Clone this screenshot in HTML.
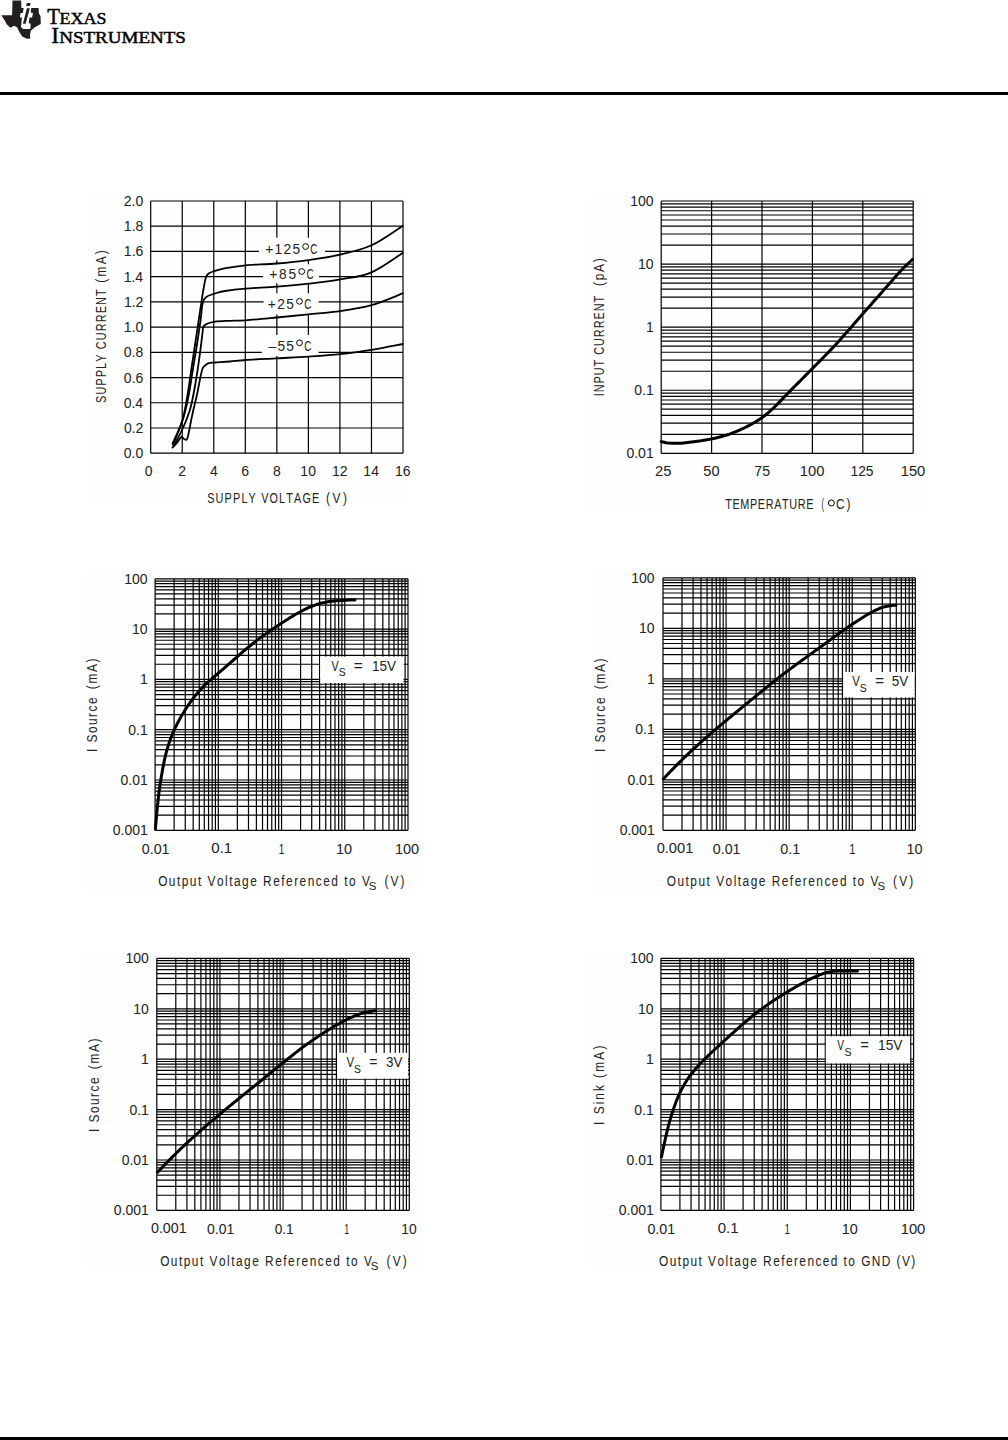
<!DOCTYPE html><html><head><meta charset="utf-8"><style>html,body{margin:0;padding:0;background:#fff;width:1008px;height:1440px;overflow:hidden}svg{display:block}text{font-kerning:none}</style></head><body>
<svg width="1008" height="1440" viewBox="0 0 1008 1440">
<rect x="0" y="0" width="1008" height="1440" fill="#fff"/>
<rect x="93.00" y="194.00" width="316.00" height="311.00" fill="#fefefe"/>
<rect x="590.00" y="194.60" width="334.00" height="316.00" fill="#fefefe"/>
<rect x="84.00" y="573.00" width="334.00" height="317.50" fill="#fefefe"/>
<rect x="592.00" y="571.40" width="333.00" height="318.60" fill="#fefefe"/>
<rect x="86.00" y="952.00" width="334.00" height="318.00" fill="#fefefe"/>
<rect x="590.00" y="952.00" width="334.00" height="316.75" fill="#fefefe"/>
<path d="M12.5,0.4 L21.2,0.4 L21.4,8 L38.6,8 L38.8,12.9 L40.6,16.5 L40.8,24.1 L34.8,27.2 L30.8,30.8 L29.9,35.3 L30.4,38.4 L26.8,38.8 L22.3,36.6 L19.6,32.6 L17,27.2 L14.3,25.7 L10.3,27.7 L6.7,24.3 L5.4,21.4 L1.3,15.2 L12.1,15.2 Z" fill="#231f20"/>
<path d="M23.7,8 L31.2,8 L30.6,12.5 L33,12.9 L32.1,17.4 L29.5,17.4 L28.6,23.2 L30.6,23.6 L30.4,29 L23,29 L21,27 L21.9,17.4 L20,17.4 L20.5,12.9 L22.8,12.9 Z" fill="#fff"/>
<path d="M26.9,8.2 L29.8,8.2 L25.7,23.8 L22.9,23.8 Z" fill="#231f20"/>
<path d="M26.8,3.0 L30.8,3.0 L29.7,6.0 L26.2,6.0 Z" fill="#231f20"/>
<text transform="translate(47.23,23.80) scale(0.8980,1)" font-family="Liberation Serif" font-size="23" fill="#000" stroke="#000" stroke-width="0.45">T</text>
<text transform="translate(59.48,23.80) scale(1.0892,1)" font-family="Liberation Serif" font-size="16.5" fill="#000" stroke="#000" stroke-width="0.45">EXAS</text>
<text transform="translate(51.36,43.20) scale(1.0134,1)" font-family="Liberation Serif" font-size="23" fill="#000" stroke="#000" stroke-width="0.45">I</text>
<text transform="translate(59.15,43.20) scale(1.1528,1)" font-family="Liberation Serif" font-size="16.5" fill="#000" stroke="#000" stroke-width="0.45">NSTRUMENTS</text>
<rect x="0.00" y="92.00" width="1008.00" height="3.00" fill="#000"/>
<rect x="0.00" y="1437.00" width="1008.00" height="3.00" fill="#000"/>
<line x1="150.70" y1="201.00" x2="150.70" y2="453.20" stroke="#000" stroke-width="1.2"/>
<line x1="182.24" y1="201.00" x2="182.24" y2="453.20" stroke="#000" stroke-width="1.2"/>
<line x1="213.77" y1="201.00" x2="213.77" y2="453.20" stroke="#000" stroke-width="1.2"/>
<line x1="245.31" y1="201.00" x2="245.31" y2="453.20" stroke="#000" stroke-width="1.2"/>
<line x1="276.85" y1="201.00" x2="276.85" y2="453.20" stroke="#000" stroke-width="1.2"/>
<line x1="308.39" y1="201.00" x2="308.39" y2="453.20" stroke="#000" stroke-width="1.2"/>
<line x1="339.93" y1="201.00" x2="339.93" y2="453.20" stroke="#000" stroke-width="1.2"/>
<line x1="371.46" y1="201.00" x2="371.46" y2="453.20" stroke="#000" stroke-width="1.2"/>
<line x1="403.00" y1="201.00" x2="403.00" y2="453.20" stroke="#000" stroke-width="1.2"/>
<line x1="150.70" y1="453.20" x2="403.00" y2="453.20" stroke="#000" stroke-width="1.2"/>
<line x1="150.70" y1="427.98" x2="403.00" y2="427.98" stroke="#000" stroke-width="1.2"/>
<line x1="150.70" y1="402.76" x2="403.00" y2="402.76" stroke="#000" stroke-width="1.2"/>
<line x1="150.70" y1="377.54" x2="403.00" y2="377.54" stroke="#000" stroke-width="1.2"/>
<line x1="150.70" y1="352.32" x2="403.00" y2="352.32" stroke="#000" stroke-width="1.2"/>
<line x1="150.70" y1="327.10" x2="403.00" y2="327.10" stroke="#000" stroke-width="1.2"/>
<line x1="150.70" y1="301.88" x2="403.00" y2="301.88" stroke="#000" stroke-width="1.2"/>
<line x1="150.70" y1="276.66" x2="403.00" y2="276.66" stroke="#000" stroke-width="1.2"/>
<line x1="150.70" y1="251.44" x2="403.00" y2="251.44" stroke="#000" stroke-width="1.2"/>
<line x1="150.70" y1="226.22" x2="403.00" y2="226.22" stroke="#000" stroke-width="1.2"/>
<line x1="150.70" y1="201.00" x2="403.00" y2="201.00" stroke="#000" stroke-width="1.2"/>
<text transform="translate(123.78,458.20) scale(1.0000,1)" font-family="Liberation Sans" font-size="14" fill="#222">0.0</text>
<text transform="translate(123.94,432.98) scale(1.0000,1)" font-family="Liberation Sans" font-size="14" fill="#222">0.2</text>
<text transform="translate(123.65,407.76) scale(1.0000,1)" font-family="Liberation Sans" font-size="14" fill="#222">0.4</text>
<text transform="translate(123.85,382.54) scale(1.0000,1)" font-family="Liberation Sans" font-size="14" fill="#222">0.6</text>
<text transform="translate(123.85,357.32) scale(1.0000,1)" font-family="Liberation Sans" font-size="14" fill="#222">0.8</text>
<text transform="translate(123.78,332.10) scale(1.0000,1)" font-family="Liberation Sans" font-size="14" fill="#222">1.0</text>
<text transform="translate(123.94,306.88) scale(1.0000,1)" font-family="Liberation Sans" font-size="14" fill="#222">1.2</text>
<text transform="translate(123.65,281.66) scale(1.0000,1)" font-family="Liberation Sans" font-size="14" fill="#222">1.4</text>
<text transform="translate(123.85,256.44) scale(1.0000,1)" font-family="Liberation Sans" font-size="14" fill="#222">1.6</text>
<text transform="translate(123.85,231.22) scale(1.0000,1)" font-family="Liberation Sans" font-size="14" fill="#222">1.8</text>
<text transform="translate(123.78,206.00) scale(1.0000,1)" font-family="Liberation Sans" font-size="14" fill="#222">2.0</text>
<text transform="translate(144.81,475.50) scale(1.0000,1)" font-family="Liberation Sans" font-size="14" fill="#222">0</text>
<text transform="translate(178.34,475.50) scale(1.0000,1)" font-family="Liberation Sans" font-size="14" fill="#222">2</text>
<text transform="translate(209.93,475.50) scale(1.0000,1)" font-family="Liberation Sans" font-size="14" fill="#222">4</text>
<text transform="translate(241.37,475.50) scale(1.0000,1)" font-family="Liberation Sans" font-size="14" fill="#222">6</text>
<text transform="translate(272.96,475.50) scale(1.0000,1)" font-family="Liberation Sans" font-size="14" fill="#222">8</text>
<text transform="translate(300.34,475.50) scale(1.0000,1)" font-family="Liberation Sans" font-size="14" fill="#222">10</text>
<text transform="translate(331.96,475.50) scale(1.0000,1)" font-family="Liberation Sans" font-size="14" fill="#222">12</text>
<text transform="translate(363.35,475.50) scale(1.0000,1)" font-family="Liberation Sans" font-size="14" fill="#222">14</text>
<text transform="translate(394.99,475.50) scale(1.0000,1)" font-family="Liberation Sans" font-size="14" fill="#222">16</text>
<text transform="translate(207.21,502.80) scale(0.7500,1)" font-family="Liberation Sans" font-size="14.5" fill="#222" letter-spacing="1.534">SUPPLY VOLTAGE</text>
<text transform="translate(325.96,502.80) scale(0.8200,1)" font-family="Liberation Sans" font-size="14.5" fill="#222" letter-spacing="3.186">(V)</text>
<text transform="translate(106.00,282.64) rotate(-90) scale(0.8200,1)" font-family="Liberation Sans" font-size="14.5" fill="#222" letter-spacing="2.691">(mA)</text>
<text transform="translate(106.00,402.99) rotate(-90) scale(0.7500,1)" font-family="Liberation Sans" font-size="14.5" fill="#222" letter-spacing="1.512">SUPPLY CURRENT</text>
<rect x="259.00" y="237.70" width="66.00" height="22.50" fill="#fff"/>
<rect x="263.10" y="264.30" width="55.90" height="18.90" fill="#fff"/>
<rect x="263.60" y="293.20" width="55.00" height="21.20" fill="#fff"/>
<rect x="261.80" y="335.10" width="56.80" height="20.90" fill="#fff"/>
<text transform="translate(265.23,254.30) scale(0.9500,1)" font-family="Liberation Sans" font-size="14.5" fill="#222" letter-spacing="1.342">+125</text>
<circle cx="305.60" cy="246.50" r="2.9" fill="none" stroke="#000" stroke-width="1.0"/>
<text transform="translate(310.29,254.30) scale(0.6861,1)" font-family="Liberation Sans" font-size="14.5" fill="#222">C</text>
<text transform="translate(269.23,279.20) scale(0.9500,1)" font-family="Liberation Sans" font-size="14.5" fill="#222" letter-spacing="1.887">+85</text>
<circle cx="301.70" cy="271.50" r="2.9" fill="none" stroke="#000" stroke-width="1.0"/>
<text transform="translate(306.39,279.20) scale(0.6861,1)" font-family="Liberation Sans" font-size="14.5" fill="#222">C</text>
<text transform="translate(267.83,309.00) scale(0.9500,1)" font-family="Liberation Sans" font-size="14.5" fill="#222" letter-spacing="1.466">+25</text>
<circle cx="299.50" cy="301.30" r="2.9" fill="none" stroke="#000" stroke-width="1.0"/>
<text transform="translate(304.19,309.00) scale(0.6861,1)" font-family="Liberation Sans" font-size="14.5" fill="#222">C</text>
<text transform="translate(268.50,350.50) scale(0.9500,1)" font-family="Liberation Sans" font-size="14.5" fill="#222" letter-spacing="1.313">–55</text>
<circle cx="299.50" cy="342.80" r="2.9" fill="none" stroke="#000" stroke-width="1.0"/>
<text transform="translate(304.19,350.50) scale(0.6861,1)" font-family="Liberation Sans" font-size="14.5" fill="#222">C</text>
<path d="M173.10,445.00 C174.67,440.83 180.10,428.33 182.50,420.00 C184.90,411.67 186.04,403.33 187.50,395.00 C188.96,386.67 190.00,378.33 191.25,370.00 C192.50,361.67 193.75,353.33 195.00,345.00 C196.25,336.67 197.50,328.33 198.75,320.00 C200.00,311.67 201.49,301.33 202.50,295.00 C203.51,288.67 204.17,285.08 204.80,282.00 C205.43,278.92 205.60,277.95 206.30,276.50 C207.00,275.05 207.87,274.13 209.00,273.30 C210.13,272.47 210.33,272.35 213.10,271.50 C215.87,270.65 220.17,269.23 225.60,268.20 C231.03,267.17 237.17,266.08 245.70,265.30 C254.23,264.52 266.37,264.37 276.80,263.50 C287.23,262.63 297.72,261.58 308.30,260.10 C318.88,258.62 329.77,257.07 340.30,254.60 C350.83,252.13 361.10,250.08 371.50,245.30 C381.90,240.52 397.50,229.13 402.70,225.90" fill="none" stroke="#000" stroke-width="1.8" stroke-linejoin="round" stroke-linecap="round"/>
<path d="M172.50,443.75 C174.20,439.79 179.99,428.12 182.70,420.00 C185.41,411.88 187.07,403.33 188.75,395.00 C190.43,386.67 191.39,378.33 192.75,370.00 C194.11,361.67 195.59,353.33 196.90,345.00 C198.21,336.67 199.70,326.67 200.60,320.00 C201.50,313.33 201.73,308.42 202.30,305.00 C202.87,301.58 203.13,300.97 204.00,299.50 C204.87,298.03 205.67,297.20 207.50,296.20 C209.33,295.20 212.08,294.37 215.00,293.50 C217.92,292.63 219.88,291.82 225.00,291.00 C230.12,290.18 237.07,289.33 245.70,288.60 C254.33,287.87 266.37,287.42 276.80,286.60 C287.23,285.78 297.72,284.90 308.30,283.70 C318.88,282.50 329.77,281.30 340.30,279.40 C350.83,277.50 361.10,276.72 371.50,272.30 C381.90,267.88 397.50,256.13 402.70,252.90" fill="none" stroke="#000" stroke-width="1.8" stroke-linejoin="round" stroke-linecap="round"/>
<path d="M173.75,446.25 C175.42,442.92 180.94,432.71 183.75,426.25 C186.56,419.79 188.62,414.79 190.60,407.50 C192.57,400.21 194.13,390.83 195.60,382.50 C197.07,374.17 198.25,365.75 199.40,357.50 C200.55,349.25 201.88,338.00 202.50,333.00 C203.12,328.00 202.68,328.83 203.10,327.50 C203.52,326.17 204.27,325.65 205.00,325.00 C205.73,324.35 205.83,324.17 207.50,323.60 C209.17,323.03 211.25,322.07 215.00,321.60 C218.75,321.13 224.88,321.02 230.00,320.80 C235.12,320.58 237.90,320.85 245.70,320.30 C253.50,319.75 266.37,318.48 276.80,317.50 C287.23,316.52 297.72,315.47 308.30,314.40 C318.88,313.33 329.77,312.63 340.30,311.10 C350.83,309.57 361.10,308.15 371.50,305.20 C381.90,302.25 397.50,295.37 402.70,293.40" fill="none" stroke="#000" stroke-width="1.8" stroke-linejoin="round" stroke-linecap="round"/>
<path d="M172.50,447.50 C173.25,446.75 175.54,444.77 177.00,443.00 C178.46,441.23 180.12,437.61 181.25,436.90 C182.38,436.19 182.81,438.33 183.75,438.75 C184.69,439.17 186.07,440.44 186.90,439.40 C187.73,438.36 187.82,436.77 188.75,432.50 C189.68,428.23 191.14,420.00 192.50,413.75 C193.86,407.50 195.55,401.25 196.90,395.00 C198.25,388.75 199.65,380.67 200.60,376.25 C201.55,371.83 201.87,370.29 202.60,368.50 C203.33,366.71 203.97,366.40 205.00,365.50 C206.03,364.60 207.08,363.60 208.75,363.10 C210.42,362.60 211.46,362.77 215.00,362.50 C218.54,362.23 224.88,361.92 230.00,361.50 C235.12,361.08 237.90,360.53 245.70,360.00 C253.50,359.47 266.37,358.87 276.80,358.30 C287.23,357.73 297.72,357.30 308.30,356.60 C318.88,355.90 329.77,355.23 340.30,354.10 C350.83,352.97 361.10,351.48 371.50,349.80 C381.90,348.12 397.50,344.97 402.70,344.00" fill="none" stroke="#000" stroke-width="1.8" stroke-linejoin="round" stroke-linecap="round"/>
<line x1="661.20" y1="201.00" x2="661.20" y2="453.30" stroke="#000" stroke-width="1.2"/>
<line x1="711.60" y1="201.00" x2="711.60" y2="453.30" stroke="#000" stroke-width="1.2"/>
<line x1="762.00" y1="201.00" x2="762.00" y2="453.30" stroke="#000" stroke-width="1.2"/>
<line x1="812.40" y1="201.00" x2="812.40" y2="453.30" stroke="#000" stroke-width="1.2"/>
<line x1="862.80" y1="201.00" x2="862.80" y2="453.30" stroke="#000" stroke-width="1.2"/>
<line x1="913.20" y1="201.00" x2="913.20" y2="453.30" stroke="#000" stroke-width="1.2"/>
<line x1="661.20" y1="453.30" x2="913.20" y2="453.30" stroke="#000" stroke-width="1.2"/>
<line x1="661.20" y1="434.31" x2="913.20" y2="434.31" stroke="#000" stroke-width="1.2"/>
<line x1="661.20" y1="423.21" x2="913.20" y2="423.21" stroke="#000" stroke-width="1.2"/>
<line x1="661.20" y1="415.33" x2="913.20" y2="415.33" stroke="#000" stroke-width="1.2"/>
<line x1="661.20" y1="409.21" x2="913.20" y2="409.21" stroke="#000" stroke-width="1.2"/>
<line x1="661.20" y1="404.22" x2="913.20" y2="404.22" stroke="#000" stroke-width="1.2"/>
<line x1="661.20" y1="400.00" x2="913.20" y2="400.00" stroke="#000" stroke-width="1.2"/>
<line x1="661.20" y1="396.34" x2="913.20" y2="396.34" stroke="#000" stroke-width="1.2"/>
<line x1="661.20" y1="393.11" x2="913.20" y2="393.11" stroke="#000" stroke-width="1.2"/>
<line x1="661.20" y1="390.23" x2="913.20" y2="390.23" stroke="#000" stroke-width="1.2"/>
<line x1="661.20" y1="371.24" x2="913.20" y2="371.24" stroke="#000" stroke-width="1.2"/>
<line x1="661.20" y1="360.13" x2="913.20" y2="360.13" stroke="#000" stroke-width="1.2"/>
<line x1="661.20" y1="352.25" x2="913.20" y2="352.25" stroke="#000" stroke-width="1.2"/>
<line x1="661.20" y1="346.14" x2="913.20" y2="346.14" stroke="#000" stroke-width="1.2"/>
<line x1="661.20" y1="341.14" x2="913.20" y2="341.14" stroke="#000" stroke-width="1.2"/>
<line x1="661.20" y1="336.92" x2="913.20" y2="336.92" stroke="#000" stroke-width="1.2"/>
<line x1="661.20" y1="333.26" x2="913.20" y2="333.26" stroke="#000" stroke-width="1.2"/>
<line x1="661.20" y1="330.04" x2="913.20" y2="330.04" stroke="#000" stroke-width="1.2"/>
<line x1="661.20" y1="327.15" x2="913.20" y2="327.15" stroke="#000" stroke-width="1.2"/>
<line x1="661.20" y1="308.16" x2="913.20" y2="308.16" stroke="#000" stroke-width="1.2"/>
<line x1="661.20" y1="297.06" x2="913.20" y2="297.06" stroke="#000" stroke-width="1.2"/>
<line x1="661.20" y1="289.18" x2="913.20" y2="289.18" stroke="#000" stroke-width="1.2"/>
<line x1="661.20" y1="283.06" x2="913.20" y2="283.06" stroke="#000" stroke-width="1.2"/>
<line x1="661.20" y1="278.07" x2="913.20" y2="278.07" stroke="#000" stroke-width="1.2"/>
<line x1="661.20" y1="273.85" x2="913.20" y2="273.85" stroke="#000" stroke-width="1.2"/>
<line x1="661.20" y1="270.19" x2="913.20" y2="270.19" stroke="#000" stroke-width="1.2"/>
<line x1="661.20" y1="266.96" x2="913.20" y2="266.96" stroke="#000" stroke-width="1.2"/>
<line x1="661.20" y1="264.07" x2="913.20" y2="264.07" stroke="#000" stroke-width="1.2"/>
<line x1="661.20" y1="245.09" x2="913.20" y2="245.09" stroke="#000" stroke-width="1.2"/>
<line x1="661.20" y1="233.98" x2="913.20" y2="233.98" stroke="#000" stroke-width="1.2"/>
<line x1="661.20" y1="226.10" x2="913.20" y2="226.10" stroke="#000" stroke-width="1.2"/>
<line x1="661.20" y1="219.99" x2="913.20" y2="219.99" stroke="#000" stroke-width="1.2"/>
<line x1="661.20" y1="214.99" x2="913.20" y2="214.99" stroke="#000" stroke-width="1.2"/>
<line x1="661.20" y1="210.77" x2="913.20" y2="210.77" stroke="#000" stroke-width="1.2"/>
<line x1="661.20" y1="207.11" x2="913.20" y2="207.11" stroke="#000" stroke-width="1.2"/>
<line x1="661.20" y1="203.89" x2="913.20" y2="203.89" stroke="#000" stroke-width="1.2"/>
<line x1="661.20" y1="201.00" x2="913.20" y2="201.00" stroke="#000" stroke-width="1.2"/>
<text transform="translate(626.44,458.30) scale(1.0000,1)" font-family="Liberation Sans" font-size="14" fill="#222">0.01</text>
<text transform="translate(634.22,395.23) scale(1.0000,1)" font-family="Liberation Sans" font-size="14" fill="#222">0.1</text>
<text transform="translate(645.90,332.15) scale(1.0000,1)" font-family="Liberation Sans" font-size="14" fill="#222">1</text>
<text transform="translate(637.97,269.07) scale(1.0000,1)" font-family="Liberation Sans" font-size="14" fill="#222">10</text>
<text transform="translate(630.19,206.00) scale(1.0000,1)" font-family="Liberation Sans" font-size="14" fill="#222">100</text>
<text transform="translate(655.05,475.50) scale(1.0644,1)" font-family="Liberation Sans" font-size="14" fill="#222">25</text>
<text transform="translate(703.31,475.50) scale(1.0439,1)" font-family="Liberation Sans" font-size="14" fill="#222">50</text>
<text transform="translate(754.27,475.50) scale(1.0164,1)" font-family="Liberation Sans" font-size="14" fill="#222">75</text>
<text transform="translate(799.87,475.50) scale(1.0577,1)" font-family="Liberation Sans" font-size="14" fill="#222">100</text>
<text transform="translate(850.44,475.50) scale(0.9906,1)" font-family="Liberation Sans" font-size="14" fill="#222">125</text>
<text transform="translate(900.67,475.50) scale(1.0577,1)" font-family="Liberation Sans" font-size="14" fill="#222">150</text>
<text transform="translate(725.16,508.90) scale(0.7500,1)" font-family="Liberation Sans" font-size="14.5" fill="#222" letter-spacing="0.832">TEMPERATURE</text>
<text transform="translate(821.43,508.90) scale(0.5202,1)" font-family="Liberation Sans" font-size="14.5" fill="#222">(</text>
<circle cx="831.40" cy="503.00" r="3" fill="none" stroke="#000" stroke-width="1.0"/>
<text transform="translate(836.10,508.90) scale(0.8200,1)" font-family="Liberation Sans" font-size="14.5" fill="#222" letter-spacing="2.067">C)</text>
<text transform="translate(603.50,286.04) rotate(-90) scale(0.8200,1)" font-family="Liberation Sans" font-size="14.5" fill="#222" letter-spacing="2.160">(pA)</text>
<text transform="translate(603.50,396.30) rotate(-90) scale(0.7500,1)" font-family="Liberation Sans" font-size="14.5" fill="#222" letter-spacing="1.305">INPUT CURRENT</text>
<path d="M661.25,441.50 L663.23,442.07 L665.22,442.57 L667.23,442.93 L669.24,443.12 L671.28,443.23 L673.32,443.31 L675.37,443.36 L677.41,443.37 L679.44,443.31 L681.48,443.17 L683.51,442.98 L685.54,442.76 L687.58,442.51 L689.60,442.25 L691.63,442.01 L693.66,441.77 L695.68,441.51 L697.71,441.24 L699.73,440.95 L701.75,440.64 L703.77,440.31 L705.78,439.97 L707.79,439.62 L709.79,439.25 L711.79,438.85 L713.79,438.43 L715.78,437.98 L717.77,437.50 L719.76,437.00 L721.73,436.47 L723.69,435.92 L725.64,435.34 L727.58,434.72 L729.51,434.06 L731.43,433.35 L733.34,432.62 L735.24,431.86 L737.13,431.09 L739.01,430.30 L740.88,429.48 L742.74,428.63 L744.58,427.75 L746.42,426.85 L748.24,425.92 L750.04,424.97 L751.83,423.99 L753.60,422.98 L755.37,421.95 L757.12,420.88 L758.84,419.78 L760.54,418.65 L762.21,417.48 L763.84,416.28 L765.45,415.03 L767.04,413.73 L768.60,412.41 L770.14,411.06 L771.66,409.70 L773.16,408.32 L774.64,406.92 L776.09,405.49 L777.52,404.04 L778.95,402.58 L780.36,401.10 L781.77,399.61 L783.17,398.13 L784.58,396.65 L786.00,395.18 L787.43,393.72 L788.86,392.27 L790.30,390.82 L791.73,389.37 L793.17,387.92 L794.61,386.47 L796.05,385.02 L797.49,383.57 L798.93,382.13 L800.36,380.68 L801.80,379.23 L803.24,377.78 L804.68,376.34 L806.12,374.89 L807.55,373.44 L808.99,371.98 L810.42,370.53 L811.85,369.08 L813.29,367.63 L814.73,366.18 L816.17,364.73 L817.61,363.28 L819.04,361.83 L820.48,360.38 L821.92,358.93 L823.35,357.48 L824.78,356.02 L826.21,354.56 L827.63,353.10 L829.05,351.63 L830.46,350.16 L831.86,348.68 L833.26,347.19 L834.65,345.70 L836.03,344.20 L837.40,342.69 L838.77,341.17 L840.14,339.66 L841.50,338.13 L842.85,336.61 L844.20,335.08 L845.56,333.55 L846.91,332.02 L848.26,330.48 L849.61,328.95 L850.96,327.42 L852.30,325.89 L853.64,324.35 L854.98,322.81 L856.32,321.27 L857.66,319.73 L858.99,318.18 L860.33,316.64 L861.67,315.10 L863.02,313.57 L864.36,312.04 L865.71,310.50 L867.07,308.98 L868.42,307.45 L869.77,305.92 L871.13,304.39 L872.48,302.87 L873.83,301.34 L875.19,299.81 L876.54,298.28 L877.89,296.75 L879.24,295.22 L880.59,293.69 L881.93,292.15 L883.28,290.62 L884.62,289.08 L885.97,287.55 L887.32,286.02 L888.67,284.48 L890.02,282.96 L891.37,281.43 L892.72,279.89 L894.06,278.35 L895.41,276.82 L896.76,275.28 L898.11,273.76 L899.48,272.24 L900.87,270.75 L902.28,269.28 L903.71,267.82 L905.15,266.38 L906.61,264.96 L908.09,263.55 L909.58,262.15 L911.08,260.77 L912.60,259.40" fill="none" stroke="#000" stroke-width="3" stroke-linejoin="round" stroke-linecap="round"/>
<line x1="155.10" y1="578.80" x2="155.10" y2="830.30" stroke="#000" stroke-width="1.2"/>
<line x1="174.13" y1="578.80" x2="174.13" y2="830.30" stroke="#000" stroke-width="1.2"/>
<line x1="185.27" y1="578.80" x2="185.27" y2="830.30" stroke="#000" stroke-width="1.2"/>
<line x1="193.17" y1="578.80" x2="193.17" y2="830.30" stroke="#000" stroke-width="1.2"/>
<line x1="199.29" y1="578.80" x2="199.29" y2="830.30" stroke="#000" stroke-width="1.2"/>
<line x1="204.30" y1="578.80" x2="204.30" y2="830.30" stroke="#000" stroke-width="1.2"/>
<line x1="208.53" y1="578.80" x2="208.53" y2="830.30" stroke="#000" stroke-width="1.2"/>
<line x1="212.20" y1="578.80" x2="212.20" y2="830.30" stroke="#000" stroke-width="1.2"/>
<line x1="215.43" y1="578.80" x2="215.43" y2="830.30" stroke="#000" stroke-width="1.2"/>
<line x1="218.32" y1="578.80" x2="218.32" y2="830.30" stroke="#000" stroke-width="1.2"/>
<line x1="237.36" y1="578.80" x2="237.36" y2="830.30" stroke="#000" stroke-width="1.2"/>
<line x1="248.49" y1="578.80" x2="248.49" y2="830.30" stroke="#000" stroke-width="1.2"/>
<line x1="256.39" y1="578.80" x2="256.39" y2="830.30" stroke="#000" stroke-width="1.2"/>
<line x1="262.52" y1="578.80" x2="262.52" y2="830.30" stroke="#000" stroke-width="1.2"/>
<line x1="267.52" y1="578.80" x2="267.52" y2="830.30" stroke="#000" stroke-width="1.2"/>
<line x1="271.76" y1="578.80" x2="271.76" y2="830.30" stroke="#000" stroke-width="1.2"/>
<line x1="275.42" y1="578.80" x2="275.42" y2="830.30" stroke="#000" stroke-width="1.2"/>
<line x1="278.66" y1="578.80" x2="278.66" y2="830.30" stroke="#000" stroke-width="1.2"/>
<line x1="281.55" y1="578.80" x2="281.55" y2="830.30" stroke="#000" stroke-width="1.2"/>
<line x1="300.58" y1="578.80" x2="300.58" y2="830.30" stroke="#000" stroke-width="1.2"/>
<line x1="311.72" y1="578.80" x2="311.72" y2="830.30" stroke="#000" stroke-width="1.2"/>
<line x1="319.62" y1="578.80" x2="319.62" y2="830.30" stroke="#000" stroke-width="1.2"/>
<line x1="325.74" y1="578.80" x2="325.74" y2="830.30" stroke="#000" stroke-width="1.2"/>
<line x1="330.75" y1="578.80" x2="330.75" y2="830.30" stroke="#000" stroke-width="1.2"/>
<line x1="334.98" y1="578.80" x2="334.98" y2="830.30" stroke="#000" stroke-width="1.2"/>
<line x1="338.65" y1="578.80" x2="338.65" y2="830.30" stroke="#000" stroke-width="1.2"/>
<line x1="341.88" y1="578.80" x2="341.88" y2="830.30" stroke="#000" stroke-width="1.2"/>
<line x1="344.77" y1="578.80" x2="344.77" y2="830.30" stroke="#000" stroke-width="1.2"/>
<line x1="363.81" y1="578.80" x2="363.81" y2="830.30" stroke="#000" stroke-width="1.2"/>
<line x1="374.94" y1="578.80" x2="374.94" y2="830.30" stroke="#000" stroke-width="1.2"/>
<line x1="382.84" y1="578.80" x2="382.84" y2="830.30" stroke="#000" stroke-width="1.2"/>
<line x1="388.97" y1="578.80" x2="388.97" y2="830.30" stroke="#000" stroke-width="1.2"/>
<line x1="393.97" y1="578.80" x2="393.97" y2="830.30" stroke="#000" stroke-width="1.2"/>
<line x1="398.21" y1="578.80" x2="398.21" y2="830.30" stroke="#000" stroke-width="1.2"/>
<line x1="401.87" y1="578.80" x2="401.87" y2="830.30" stroke="#000" stroke-width="1.2"/>
<line x1="405.11" y1="578.80" x2="405.11" y2="830.30" stroke="#000" stroke-width="1.2"/>
<line x1="408.00" y1="578.80" x2="408.00" y2="830.30" stroke="#000" stroke-width="1.2"/>
<line x1="155.10" y1="830.30" x2="408.00" y2="830.30" stroke="#000" stroke-width="1.2"/>
<line x1="155.10" y1="815.16" x2="408.00" y2="815.16" stroke="#000" stroke-width="1.2"/>
<line x1="155.10" y1="806.30" x2="408.00" y2="806.30" stroke="#000" stroke-width="1.2"/>
<line x1="155.10" y1="800.02" x2="408.00" y2="800.02" stroke="#000" stroke-width="1.2"/>
<line x1="155.10" y1="795.14" x2="408.00" y2="795.14" stroke="#000" stroke-width="1.2"/>
<line x1="155.10" y1="791.16" x2="408.00" y2="791.16" stroke="#000" stroke-width="1.2"/>
<line x1="155.10" y1="787.79" x2="408.00" y2="787.79" stroke="#000" stroke-width="1.2"/>
<line x1="155.10" y1="784.87" x2="408.00" y2="784.87" stroke="#000" stroke-width="1.2"/>
<line x1="155.10" y1="782.30" x2="408.00" y2="782.30" stroke="#000" stroke-width="1.2"/>
<line x1="155.10" y1="780.00" x2="408.00" y2="780.00" stroke="#000" stroke-width="1.2"/>
<line x1="155.10" y1="764.86" x2="408.00" y2="764.86" stroke="#000" stroke-width="1.2"/>
<line x1="155.10" y1="756.00" x2="408.00" y2="756.00" stroke="#000" stroke-width="1.2"/>
<line x1="155.10" y1="749.72" x2="408.00" y2="749.72" stroke="#000" stroke-width="1.2"/>
<line x1="155.10" y1="744.84" x2="408.00" y2="744.84" stroke="#000" stroke-width="1.2"/>
<line x1="155.10" y1="740.86" x2="408.00" y2="740.86" stroke="#000" stroke-width="1.2"/>
<line x1="155.10" y1="737.49" x2="408.00" y2="737.49" stroke="#000" stroke-width="1.2"/>
<line x1="155.10" y1="734.57" x2="408.00" y2="734.57" stroke="#000" stroke-width="1.2"/>
<line x1="155.10" y1="732.00" x2="408.00" y2="732.00" stroke="#000" stroke-width="1.2"/>
<line x1="155.10" y1="729.70" x2="408.00" y2="729.70" stroke="#000" stroke-width="1.2"/>
<line x1="155.10" y1="714.56" x2="408.00" y2="714.56" stroke="#000" stroke-width="1.2"/>
<line x1="155.10" y1="705.70" x2="408.00" y2="705.70" stroke="#000" stroke-width="1.2"/>
<line x1="155.10" y1="699.42" x2="408.00" y2="699.42" stroke="#000" stroke-width="1.2"/>
<line x1="155.10" y1="694.54" x2="408.00" y2="694.54" stroke="#000" stroke-width="1.2"/>
<line x1="155.10" y1="690.56" x2="408.00" y2="690.56" stroke="#000" stroke-width="1.2"/>
<line x1="155.10" y1="687.19" x2="408.00" y2="687.19" stroke="#000" stroke-width="1.2"/>
<line x1="155.10" y1="684.27" x2="408.00" y2="684.27" stroke="#000" stroke-width="1.2"/>
<line x1="155.10" y1="681.70" x2="408.00" y2="681.70" stroke="#000" stroke-width="1.2"/>
<line x1="155.10" y1="679.40" x2="408.00" y2="679.40" stroke="#000" stroke-width="1.2"/>
<line x1="155.10" y1="664.26" x2="408.00" y2="664.26" stroke="#000" stroke-width="1.2"/>
<line x1="155.10" y1="655.40" x2="408.00" y2="655.40" stroke="#000" stroke-width="1.2"/>
<line x1="155.10" y1="649.12" x2="408.00" y2="649.12" stroke="#000" stroke-width="1.2"/>
<line x1="155.10" y1="644.24" x2="408.00" y2="644.24" stroke="#000" stroke-width="1.2"/>
<line x1="155.10" y1="640.26" x2="408.00" y2="640.26" stroke="#000" stroke-width="1.2"/>
<line x1="155.10" y1="636.89" x2="408.00" y2="636.89" stroke="#000" stroke-width="1.2"/>
<line x1="155.10" y1="633.97" x2="408.00" y2="633.97" stroke="#000" stroke-width="1.2"/>
<line x1="155.10" y1="631.40" x2="408.00" y2="631.40" stroke="#000" stroke-width="1.2"/>
<line x1="155.10" y1="629.10" x2="408.00" y2="629.10" stroke="#000" stroke-width="1.2"/>
<line x1="155.10" y1="613.96" x2="408.00" y2="613.96" stroke="#000" stroke-width="1.2"/>
<line x1="155.10" y1="605.10" x2="408.00" y2="605.10" stroke="#000" stroke-width="1.2"/>
<line x1="155.10" y1="598.82" x2="408.00" y2="598.82" stroke="#000" stroke-width="1.2"/>
<line x1="155.10" y1="593.94" x2="408.00" y2="593.94" stroke="#000" stroke-width="1.2"/>
<line x1="155.10" y1="589.96" x2="408.00" y2="589.96" stroke="#000" stroke-width="1.2"/>
<line x1="155.10" y1="586.59" x2="408.00" y2="586.59" stroke="#000" stroke-width="1.2"/>
<line x1="155.10" y1="583.67" x2="408.00" y2="583.67" stroke="#000" stroke-width="1.2"/>
<line x1="155.10" y1="581.10" x2="408.00" y2="581.10" stroke="#000" stroke-width="1.2"/>
<line x1="155.10" y1="578.80" x2="408.00" y2="578.80" stroke="#000" stroke-width="1.2"/>
<text transform="translate(112.75,835.30) scale(1.0000,1)" font-family="Liberation Sans" font-size="14" fill="#222">0.001</text>
<text transform="translate(120.54,785.00) scale(1.0000,1)" font-family="Liberation Sans" font-size="14" fill="#222">0.01</text>
<text transform="translate(128.32,734.70) scale(1.0000,1)" font-family="Liberation Sans" font-size="14" fill="#222">0.1</text>
<text transform="translate(140.00,684.40) scale(1.0000,1)" font-family="Liberation Sans" font-size="14" fill="#222">1</text>
<text transform="translate(132.07,634.10) scale(1.0000,1)" font-family="Liberation Sans" font-size="14" fill="#222">10</text>
<text transform="translate(124.29,583.80) scale(1.0000,1)" font-family="Liberation Sans" font-size="14" fill="#222">100</text>
<text transform="translate(141.74,854.30) scale(0.9834,1)" font-family="Liberation Sans" font-size="14.5" fill="#222">0.01</text>
<text transform="translate(211.31,852.80) scale(1.0380,1)" font-family="Liberation Sans" font-size="14.5" fill="#222">0.1</text>
<text transform="translate(278.74,854.30) scale(0.6878,1)" font-family="Liberation Sans" font-size="14.5" fill="#222">1</text>
<text transform="translate(335.89,854.30) scale(1.0029,1)" font-family="Liberation Sans" font-size="14.5" fill="#222">10</text>
<text transform="translate(394.90,854.30) scale(0.9990,1)" font-family="Liberation Sans" font-size="14.5" fill="#222">100</text>
<text transform="translate(96.80,689.24) rotate(-90) scale(0.8200,1)" font-family="Liberation Sans" font-size="14.5" fill="#222" letter-spacing="2.041">(mA)</text>
<text transform="translate(96.80,751.90) rotate(-90) scale(0.8200,1)" font-family="Liberation Sans" font-size="14.5" fill="#222" letter-spacing="1.768">I Source</text>
<text transform="translate(158.14,885.50) scale(0.8200,1)" font-family="Liberation Sans" font-size="14.5" fill="#222" letter-spacing="1.819">Output Voltage Referenced to V</text>
<text transform="translate(368.78,890.40) scale(0.9969,1)" font-family="Liberation Sans" font-size="11.5" fill="#222">S</text>
<text transform="translate(384.46,885.50) scale(0.8200,1)" font-family="Liberation Sans" font-size="14.5" fill="#222" letter-spacing="2.515">(V)</text>
<rect x="320.20" y="656.60" width="83.40" height="26.40" fill="#fff"/>
<text transform="translate(331.45,670.50) scale(0.7439,1)" font-family="Liberation Sans" font-size="14.5" fill="#222">V</text>
<text transform="translate(338.83,676.40) scale(0.9063,1)" font-family="Liberation Sans" font-size="11.5" fill="#222">S</text>
<text transform="translate(353.85,670.50) scale(1.0646,1)" font-family="Liberation Sans" font-size="14.5" fill="#222">=</text>
<text transform="translate(371.97,670.50) scale(0.9338,1)" font-family="Liberation Sans" font-size="14.5" fill="#222">15V</text>
<path d="M155.40,829.10 L155.56,827.01 L155.73,824.92 L155.91,822.83 L156.09,820.74 L156.27,818.65 L156.46,816.57 L156.65,814.48 L156.85,812.39 L157.05,810.31 L157.26,808.22 L157.47,806.14 L157.68,804.05 L157.90,801.97 L158.13,799.88 L158.36,797.80 L158.60,795.72 L158.85,793.63 L159.11,791.56 L159.39,789.48 L159.68,787.40 L159.98,785.33 L160.30,783.26 L160.62,781.18 L160.96,779.11 L161.30,777.05 L161.64,774.98 L161.99,772.91 L162.36,770.85 L162.73,768.78 L163.11,766.72 L163.52,764.67 L163.93,762.61 L164.36,760.56 L164.81,758.51 L165.27,756.46 L165.76,754.43 L166.27,752.39 L166.81,750.37 L167.38,748.35 L167.98,746.34 L168.61,744.34 L169.27,742.35 L169.96,740.38 L170.68,738.41 L171.45,736.46 L172.24,734.51 L173.06,732.58 L173.91,730.66 L174.77,728.76 L175.67,726.87 L176.60,724.98 L177.56,723.12 L178.54,721.26 L179.53,719.42 L180.56,717.59 L181.61,715.78 L182.68,713.97 L183.77,712.18 L184.88,710.40 L186.01,708.64 L187.16,706.88 L188.33,705.14 L189.52,703.42 L190.73,701.71 L191.95,700.01 L193.20,698.32 L194.48,696.65 L195.78,695.01 L197.11,693.40 L198.47,691.81 L199.87,690.24 L201.29,688.69 L202.74,687.18 L204.21,685.69 L205.72,684.23 L207.25,682.81 L208.81,681.40 L210.38,680.01 L211.96,678.63 L213.54,677.25 L215.14,675.90 L216.75,674.55 L218.35,673.20 L219.95,671.84 L221.54,670.47 L223.12,669.10 L224.70,667.73 L226.29,666.35 L227.86,664.97 L229.43,663.59 L231.00,662.20 L232.57,660.80 L234.14,659.41 L235.71,658.03 L237.28,656.64 L238.86,655.26 L240.44,653.88 L242.03,652.51 L243.62,651.15 L245.22,649.79 L246.82,648.45 L248.44,647.11 L250.06,645.78 L251.69,644.46 L253.33,643.16 L254.98,641.87 L256.65,640.59 L258.32,639.33 L259.99,638.07 L261.68,636.83 L263.38,635.59 L265.08,634.37 L266.79,633.16 L268.51,631.96 L270.23,630.76 L271.96,629.58 L273.69,628.39 L275.42,627.22 L277.16,626.05 L278.91,624.89 L280.66,623.73 L282.42,622.59 L284.18,621.45 L285.95,620.33 L287.72,619.21 L289.49,618.09 L291.28,616.98 L293.07,615.89 L294.87,614.81 L296.68,613.76 L298.51,612.74 L300.35,611.74 L302.20,610.75 L304.07,609.78 L305.95,608.85 L307.85,607.96 L309.76,607.13 L311.70,606.34 L313.66,605.57 L315.64,604.84 L317.63,604.16 L319.64,603.56 L321.66,603.06 L323.69,602.62 L325.75,602.19 L327.82,601.80 L329.90,601.46 L331.98,601.17 L334.07,600.94 L336.15,600.78 L338.23,600.64 L340.32,600.51 L342.40,600.39 L344.50,600.28 L346.59,600.18 L348.69,600.11 L350.79,600.05 L352.89,600.01 L355.00,600.00" fill="none" stroke="#000" stroke-width="3" stroke-linejoin="round" stroke-linecap="round"/>
<line x1="663.00" y1="577.80" x2="663.00" y2="830.30" stroke="#000" stroke-width="1.2"/>
<line x1="681.99" y1="577.80" x2="681.99" y2="830.30" stroke="#000" stroke-width="1.2"/>
<line x1="693.09" y1="577.80" x2="693.09" y2="830.30" stroke="#000" stroke-width="1.2"/>
<line x1="700.97" y1="577.80" x2="700.97" y2="830.30" stroke="#000" stroke-width="1.2"/>
<line x1="707.09" y1="577.80" x2="707.09" y2="830.30" stroke="#000" stroke-width="1.2"/>
<line x1="712.08" y1="577.80" x2="712.08" y2="830.30" stroke="#000" stroke-width="1.2"/>
<line x1="716.30" y1="577.80" x2="716.30" y2="830.30" stroke="#000" stroke-width="1.2"/>
<line x1="719.96" y1="577.80" x2="719.96" y2="830.30" stroke="#000" stroke-width="1.2"/>
<line x1="723.19" y1="577.80" x2="723.19" y2="830.30" stroke="#000" stroke-width="1.2"/>
<line x1="726.08" y1="577.80" x2="726.08" y2="830.30" stroke="#000" stroke-width="1.2"/>
<line x1="745.06" y1="577.80" x2="745.06" y2="830.30" stroke="#000" stroke-width="1.2"/>
<line x1="756.17" y1="577.80" x2="756.17" y2="830.30" stroke="#000" stroke-width="1.2"/>
<line x1="764.05" y1="577.80" x2="764.05" y2="830.30" stroke="#000" stroke-width="1.2"/>
<line x1="770.16" y1="577.80" x2="770.16" y2="830.30" stroke="#000" stroke-width="1.2"/>
<line x1="775.16" y1="577.80" x2="775.16" y2="830.30" stroke="#000" stroke-width="1.2"/>
<line x1="779.38" y1="577.80" x2="779.38" y2="830.30" stroke="#000" stroke-width="1.2"/>
<line x1="783.04" y1="577.80" x2="783.04" y2="830.30" stroke="#000" stroke-width="1.2"/>
<line x1="786.26" y1="577.80" x2="786.26" y2="830.30" stroke="#000" stroke-width="1.2"/>
<line x1="789.15" y1="577.80" x2="789.15" y2="830.30" stroke="#000" stroke-width="1.2"/>
<line x1="808.14" y1="577.80" x2="808.14" y2="830.30" stroke="#000" stroke-width="1.2"/>
<line x1="819.24" y1="577.80" x2="819.24" y2="830.30" stroke="#000" stroke-width="1.2"/>
<line x1="827.12" y1="577.80" x2="827.12" y2="830.30" stroke="#000" stroke-width="1.2"/>
<line x1="833.24" y1="577.80" x2="833.24" y2="830.30" stroke="#000" stroke-width="1.2"/>
<line x1="838.23" y1="577.80" x2="838.23" y2="830.30" stroke="#000" stroke-width="1.2"/>
<line x1="842.45" y1="577.80" x2="842.45" y2="830.30" stroke="#000" stroke-width="1.2"/>
<line x1="846.11" y1="577.80" x2="846.11" y2="830.30" stroke="#000" stroke-width="1.2"/>
<line x1="849.34" y1="577.80" x2="849.34" y2="830.30" stroke="#000" stroke-width="1.2"/>
<line x1="852.22" y1="577.80" x2="852.22" y2="830.30" stroke="#000" stroke-width="1.2"/>
<line x1="871.21" y1="577.80" x2="871.21" y2="830.30" stroke="#000" stroke-width="1.2"/>
<line x1="882.32" y1="577.80" x2="882.32" y2="830.30" stroke="#000" stroke-width="1.2"/>
<line x1="890.20" y1="577.80" x2="890.20" y2="830.30" stroke="#000" stroke-width="1.2"/>
<line x1="896.31" y1="577.80" x2="896.31" y2="830.30" stroke="#000" stroke-width="1.2"/>
<line x1="901.31" y1="577.80" x2="901.31" y2="830.30" stroke="#000" stroke-width="1.2"/>
<line x1="905.53" y1="577.80" x2="905.53" y2="830.30" stroke="#000" stroke-width="1.2"/>
<line x1="909.19" y1="577.80" x2="909.19" y2="830.30" stroke="#000" stroke-width="1.2"/>
<line x1="912.41" y1="577.80" x2="912.41" y2="830.30" stroke="#000" stroke-width="1.2"/>
<line x1="915.30" y1="577.80" x2="915.30" y2="830.30" stroke="#000" stroke-width="1.2"/>
<line x1="663.00" y1="830.30" x2="915.30" y2="830.30" stroke="#000" stroke-width="1.2"/>
<line x1="663.00" y1="815.10" x2="915.30" y2="815.10" stroke="#000" stroke-width="1.2"/>
<line x1="663.00" y1="806.21" x2="915.30" y2="806.21" stroke="#000" stroke-width="1.2"/>
<line x1="663.00" y1="799.90" x2="915.30" y2="799.90" stroke="#000" stroke-width="1.2"/>
<line x1="663.00" y1="795.00" x2="915.30" y2="795.00" stroke="#000" stroke-width="1.2"/>
<line x1="663.00" y1="791.00" x2="915.30" y2="791.00" stroke="#000" stroke-width="1.2"/>
<line x1="663.00" y1="787.62" x2="915.30" y2="787.62" stroke="#000" stroke-width="1.2"/>
<line x1="663.00" y1="784.69" x2="915.30" y2="784.69" stroke="#000" stroke-width="1.2"/>
<line x1="663.00" y1="782.11" x2="915.30" y2="782.11" stroke="#000" stroke-width="1.2"/>
<line x1="663.00" y1="779.80" x2="915.30" y2="779.80" stroke="#000" stroke-width="1.2"/>
<line x1="663.00" y1="764.60" x2="915.30" y2="764.60" stroke="#000" stroke-width="1.2"/>
<line x1="663.00" y1="755.71" x2="915.30" y2="755.71" stroke="#000" stroke-width="1.2"/>
<line x1="663.00" y1="749.40" x2="915.30" y2="749.40" stroke="#000" stroke-width="1.2"/>
<line x1="663.00" y1="744.50" x2="915.30" y2="744.50" stroke="#000" stroke-width="1.2"/>
<line x1="663.00" y1="740.50" x2="915.30" y2="740.50" stroke="#000" stroke-width="1.2"/>
<line x1="663.00" y1="737.12" x2="915.30" y2="737.12" stroke="#000" stroke-width="1.2"/>
<line x1="663.00" y1="734.19" x2="915.30" y2="734.19" stroke="#000" stroke-width="1.2"/>
<line x1="663.00" y1="731.61" x2="915.30" y2="731.61" stroke="#000" stroke-width="1.2"/>
<line x1="663.00" y1="729.30" x2="915.30" y2="729.30" stroke="#000" stroke-width="1.2"/>
<line x1="663.00" y1="714.10" x2="915.30" y2="714.10" stroke="#000" stroke-width="1.2"/>
<line x1="663.00" y1="705.21" x2="915.30" y2="705.21" stroke="#000" stroke-width="1.2"/>
<line x1="663.00" y1="698.90" x2="915.30" y2="698.90" stroke="#000" stroke-width="1.2"/>
<line x1="663.00" y1="694.00" x2="915.30" y2="694.00" stroke="#000" stroke-width="1.2"/>
<line x1="663.00" y1="690.00" x2="915.30" y2="690.00" stroke="#000" stroke-width="1.2"/>
<line x1="663.00" y1="686.62" x2="915.30" y2="686.62" stroke="#000" stroke-width="1.2"/>
<line x1="663.00" y1="683.69" x2="915.30" y2="683.69" stroke="#000" stroke-width="1.2"/>
<line x1="663.00" y1="681.11" x2="915.30" y2="681.11" stroke="#000" stroke-width="1.2"/>
<line x1="663.00" y1="678.80" x2="915.30" y2="678.80" stroke="#000" stroke-width="1.2"/>
<line x1="663.00" y1="663.60" x2="915.30" y2="663.60" stroke="#000" stroke-width="1.2"/>
<line x1="663.00" y1="654.71" x2="915.30" y2="654.71" stroke="#000" stroke-width="1.2"/>
<line x1="663.00" y1="648.40" x2="915.30" y2="648.40" stroke="#000" stroke-width="1.2"/>
<line x1="663.00" y1="643.50" x2="915.30" y2="643.50" stroke="#000" stroke-width="1.2"/>
<line x1="663.00" y1="639.50" x2="915.30" y2="639.50" stroke="#000" stroke-width="1.2"/>
<line x1="663.00" y1="636.12" x2="915.30" y2="636.12" stroke="#000" stroke-width="1.2"/>
<line x1="663.00" y1="633.19" x2="915.30" y2="633.19" stroke="#000" stroke-width="1.2"/>
<line x1="663.00" y1="630.61" x2="915.30" y2="630.61" stroke="#000" stroke-width="1.2"/>
<line x1="663.00" y1="628.30" x2="915.30" y2="628.30" stroke="#000" stroke-width="1.2"/>
<line x1="663.00" y1="613.10" x2="915.30" y2="613.10" stroke="#000" stroke-width="1.2"/>
<line x1="663.00" y1="604.21" x2="915.30" y2="604.21" stroke="#000" stroke-width="1.2"/>
<line x1="663.00" y1="597.90" x2="915.30" y2="597.90" stroke="#000" stroke-width="1.2"/>
<line x1="663.00" y1="593.00" x2="915.30" y2="593.00" stroke="#000" stroke-width="1.2"/>
<line x1="663.00" y1="589.00" x2="915.30" y2="589.00" stroke="#000" stroke-width="1.2"/>
<line x1="663.00" y1="585.62" x2="915.30" y2="585.62" stroke="#000" stroke-width="1.2"/>
<line x1="663.00" y1="582.69" x2="915.30" y2="582.69" stroke="#000" stroke-width="1.2"/>
<line x1="663.00" y1="580.11" x2="915.30" y2="580.11" stroke="#000" stroke-width="1.2"/>
<line x1="663.00" y1="577.80" x2="915.30" y2="577.80" stroke="#000" stroke-width="1.2"/>
<text transform="translate(619.65,835.30) scale(1.0000,1)" font-family="Liberation Sans" font-size="14" fill="#222">0.001</text>
<text transform="translate(627.44,784.80) scale(1.0000,1)" font-family="Liberation Sans" font-size="14" fill="#222">0.01</text>
<text transform="translate(635.22,734.30) scale(1.0000,1)" font-family="Liberation Sans" font-size="14" fill="#222">0.1</text>
<text transform="translate(646.90,683.80) scale(1.0000,1)" font-family="Liberation Sans" font-size="14" fill="#222">1</text>
<text transform="translate(638.97,633.30) scale(1.0000,1)" font-family="Liberation Sans" font-size="14" fill="#222">10</text>
<text transform="translate(631.19,582.80) scale(1.0000,1)" font-family="Liberation Sans" font-size="14" fill="#222">100</text>
<text transform="translate(656.63,852.80) scale(1.0111,1)" font-family="Liberation Sans" font-size="14.5" fill="#222">0.001</text>
<text transform="translate(712.74,854.30) scale(0.9834,1)" font-family="Liberation Sans" font-size="14.5" fill="#222">0.01</text>
<text transform="translate(780.34,854.30) scale(0.9903,1)" font-family="Liberation Sans" font-size="14.5" fill="#222">0.1</text>
<text transform="translate(849.15,854.30) scale(0.7678,1)" font-family="Liberation Sans" font-size="14.5" fill="#222">1</text>
<text transform="translate(906.40,854.30) scale(0.9960,1)" font-family="Liberation Sans" font-size="14.5" fill="#222">10</text>
<text transform="translate(604.50,689.24) rotate(-90) scale(0.8200,1)" font-family="Liberation Sans" font-size="14.5" fill="#222" letter-spacing="2.041">(mA)</text>
<text transform="translate(604.50,751.90) rotate(-90) scale(0.8200,1)" font-family="Liberation Sans" font-size="14.5" fill="#222" letter-spacing="1.768">I Source</text>
<text transform="translate(666.74,885.50) scale(0.8200,1)" font-family="Liberation Sans" font-size="14.5" fill="#222" letter-spacing="1.819">Output Voltage Referenced to V</text>
<text transform="translate(877.38,890.40) scale(0.9969,1)" font-family="Liberation Sans" font-size="11.5" fill="#222">S</text>
<text transform="translate(893.06,885.50) scale(0.8200,1)" font-family="Liberation Sans" font-size="14.5" fill="#222" letter-spacing="2.576">(V)</text>
<rect x="843.20" y="672.00" width="71.40" height="25.40" fill="#fff"/>
<text transform="translate(852.25,686.30) scale(0.7858,1)" font-family="Liberation Sans" font-size="14.5" fill="#222">V</text>
<text transform="translate(859.73,691.80) scale(0.9063,1)" font-family="Liberation Sans" font-size="11.5" fill="#222">S</text>
<text transform="translate(874.94,686.30) scale(1.0788,1)" font-family="Liberation Sans" font-size="14.5" fill="#222">=</text>
<text transform="translate(891.86,686.30) scale(0.9303,1)" font-family="Liberation Sans" font-size="14.5" fill="#222">5V</text>
<path d="M663.30,779.00 L664.56,777.65 L665.83,776.31 L667.09,774.98 L668.37,773.64 L669.64,772.31 L670.92,770.99 L672.21,769.67 L673.50,768.35 L674.79,767.04 L676.08,765.73 L677.39,764.42 L678.69,763.12 L680.00,761.82 L681.31,760.53 L682.63,759.24 L683.94,757.95 L685.27,756.67 L686.60,755.39 L687.93,754.11 L689.26,752.84 L690.60,751.58 L691.95,750.32 L693.30,749.07 L694.65,747.82 L696.01,746.57 L697.38,745.34 L698.75,744.10 L700.12,742.88 L701.50,741.65 L702.88,740.43 L704.26,739.21 L705.65,738.00 L707.04,736.78 L708.43,735.57 L709.82,734.37 L711.21,733.16 L712.61,731.96 L714.01,730.76 L715.41,729.57 L716.82,728.38 L718.23,727.19 L719.64,726.00 L721.05,724.81 L722.46,723.63 L723.87,722.45 L725.29,721.27 L726.70,720.09 L728.12,718.90 L729.53,717.73 L730.95,716.55 L732.37,715.38 L733.79,714.20 L735.22,713.03 L736.64,711.86 L738.07,710.69 L739.49,709.52 L740.92,708.36 L742.34,707.19 L743.77,706.02 L745.19,704.85 L746.61,703.68 L748.04,702.51 L749.46,701.34 L750.88,700.17 L752.31,699.00 L753.73,697.83 L755.16,696.66 L756.58,695.50 L758.01,694.33 L759.44,693.17 L760.87,692.00 L762.30,690.84 L763.73,689.68 L765.17,688.52 L766.60,687.36 L768.03,686.21 L769.47,685.05 L770.90,683.89 L772.34,682.74 L773.78,681.59 L775.22,680.44 L776.67,679.30 L778.12,678.16 L779.57,677.03 L781.03,675.91 L782.49,674.78 L783.95,673.66 L785.42,672.55 L786.89,671.44 L788.36,670.33 L789.84,669.22 L791.32,668.12 L792.80,667.02 L794.28,665.93 L795.76,664.84 L797.25,663.75 L798.75,662.67 L800.24,661.60 L801.74,660.52 L803.24,659.45 L804.73,658.37 L806.23,657.30 L807.73,656.22 L809.22,655.14 L810.71,654.06 L812.21,652.98 L813.70,651.90 L815.20,650.83 L816.69,649.75 L818.18,648.67 L819.67,647.59 L821.17,646.50 L822.66,645.42 L824.15,644.33 L825.63,643.24 L827.12,642.15 L828.60,641.07 L830.09,639.98 L831.58,638.89 L833.07,637.80 L834.56,636.72 L836.06,635.65 L837.55,634.57 L839.05,633.49 L840.54,632.42 L842.04,631.34 L843.54,630.27 L845.05,629.21 L846.56,628.15 L848.07,627.10 L849.59,626.06 L851.12,625.03 L852.64,624.00 L854.18,622.97 L855.71,621.95 L857.25,620.94 L858.80,619.94 L860.36,618.95 L861.92,617.98 L863.49,617.01 L865.06,616.03 L866.63,615.06 L868.22,614.11 L869.81,613.19 L871.43,612.30 L873.06,611.46 L874.71,610.65 L876.38,609.82 L878.07,609.02 L879.77,608.27 L881.50,607.63 L883.24,607.12 L885.01,606.74 L886.79,606.38 L888.59,606.04 L890.42,605.75 L892.26,605.52 L894.12,605.37 L896.00,605.30" fill="none" stroke="#000" stroke-width="3" stroke-linejoin="round" stroke-linecap="round"/>
<line x1="156.80" y1="958.40" x2="156.80" y2="1210.40" stroke="#000" stroke-width="1.2"/>
<line x1="175.80" y1="958.40" x2="175.80" y2="1210.40" stroke="#000" stroke-width="1.2"/>
<line x1="186.92" y1="958.40" x2="186.92" y2="1210.40" stroke="#000" stroke-width="1.2"/>
<line x1="194.81" y1="958.40" x2="194.81" y2="1210.40" stroke="#000" stroke-width="1.2"/>
<line x1="200.92" y1="958.40" x2="200.92" y2="1210.40" stroke="#000" stroke-width="1.2"/>
<line x1="205.92" y1="958.40" x2="205.92" y2="1210.40" stroke="#000" stroke-width="1.2"/>
<line x1="210.15" y1="958.40" x2="210.15" y2="1210.40" stroke="#000" stroke-width="1.2"/>
<line x1="213.81" y1="958.40" x2="213.81" y2="1210.40" stroke="#000" stroke-width="1.2"/>
<line x1="217.04" y1="958.40" x2="217.04" y2="1210.40" stroke="#000" stroke-width="1.2"/>
<line x1="219.93" y1="958.40" x2="219.93" y2="1210.40" stroke="#000" stroke-width="1.2"/>
<line x1="238.93" y1="958.40" x2="238.93" y2="1210.40" stroke="#000" stroke-width="1.2"/>
<line x1="250.04" y1="958.40" x2="250.04" y2="1210.40" stroke="#000" stroke-width="1.2"/>
<line x1="257.93" y1="958.40" x2="257.93" y2="1210.40" stroke="#000" stroke-width="1.2"/>
<line x1="264.05" y1="958.40" x2="264.05" y2="1210.40" stroke="#000" stroke-width="1.2"/>
<line x1="269.05" y1="958.40" x2="269.05" y2="1210.40" stroke="#000" stroke-width="1.2"/>
<line x1="273.27" y1="958.40" x2="273.27" y2="1210.40" stroke="#000" stroke-width="1.2"/>
<line x1="276.93" y1="958.40" x2="276.93" y2="1210.40" stroke="#000" stroke-width="1.2"/>
<line x1="280.16" y1="958.40" x2="280.16" y2="1210.40" stroke="#000" stroke-width="1.2"/>
<line x1="283.05" y1="958.40" x2="283.05" y2="1210.40" stroke="#000" stroke-width="1.2"/>
<line x1="302.05" y1="958.40" x2="302.05" y2="1210.40" stroke="#000" stroke-width="1.2"/>
<line x1="313.17" y1="958.40" x2="313.17" y2="1210.40" stroke="#000" stroke-width="1.2"/>
<line x1="321.06" y1="958.40" x2="321.06" y2="1210.40" stroke="#000" stroke-width="1.2"/>
<line x1="327.17" y1="958.40" x2="327.17" y2="1210.40" stroke="#000" stroke-width="1.2"/>
<line x1="332.17" y1="958.40" x2="332.17" y2="1210.40" stroke="#000" stroke-width="1.2"/>
<line x1="336.40" y1="958.40" x2="336.40" y2="1210.40" stroke="#000" stroke-width="1.2"/>
<line x1="340.06" y1="958.40" x2="340.06" y2="1210.40" stroke="#000" stroke-width="1.2"/>
<line x1="343.29" y1="958.40" x2="343.29" y2="1210.40" stroke="#000" stroke-width="1.2"/>
<line x1="346.18" y1="958.40" x2="346.18" y2="1210.40" stroke="#000" stroke-width="1.2"/>
<line x1="365.18" y1="958.40" x2="365.18" y2="1210.40" stroke="#000" stroke-width="1.2"/>
<line x1="376.29" y1="958.40" x2="376.29" y2="1210.40" stroke="#000" stroke-width="1.2"/>
<line x1="384.18" y1="958.40" x2="384.18" y2="1210.40" stroke="#000" stroke-width="1.2"/>
<line x1="390.30" y1="958.40" x2="390.30" y2="1210.40" stroke="#000" stroke-width="1.2"/>
<line x1="395.30" y1="958.40" x2="395.30" y2="1210.40" stroke="#000" stroke-width="1.2"/>
<line x1="399.52" y1="958.40" x2="399.52" y2="1210.40" stroke="#000" stroke-width="1.2"/>
<line x1="403.18" y1="958.40" x2="403.18" y2="1210.40" stroke="#000" stroke-width="1.2"/>
<line x1="406.41" y1="958.40" x2="406.41" y2="1210.40" stroke="#000" stroke-width="1.2"/>
<line x1="409.30" y1="958.40" x2="409.30" y2="1210.40" stroke="#000" stroke-width="1.2"/>
<line x1="156.80" y1="1210.40" x2="409.30" y2="1210.40" stroke="#000" stroke-width="1.2"/>
<line x1="156.80" y1="1195.23" x2="409.30" y2="1195.23" stroke="#000" stroke-width="1.2"/>
<line x1="156.80" y1="1186.35" x2="409.30" y2="1186.35" stroke="#000" stroke-width="1.2"/>
<line x1="156.80" y1="1180.06" x2="409.30" y2="1180.06" stroke="#000" stroke-width="1.2"/>
<line x1="156.80" y1="1175.17" x2="409.30" y2="1175.17" stroke="#000" stroke-width="1.2"/>
<line x1="156.80" y1="1171.18" x2="409.30" y2="1171.18" stroke="#000" stroke-width="1.2"/>
<line x1="156.80" y1="1167.81" x2="409.30" y2="1167.81" stroke="#000" stroke-width="1.2"/>
<line x1="156.80" y1="1164.88" x2="409.30" y2="1164.88" stroke="#000" stroke-width="1.2"/>
<line x1="156.80" y1="1162.31" x2="409.30" y2="1162.31" stroke="#000" stroke-width="1.2"/>
<line x1="156.80" y1="1160.00" x2="409.30" y2="1160.00" stroke="#000" stroke-width="1.2"/>
<line x1="156.80" y1="1144.83" x2="409.30" y2="1144.83" stroke="#000" stroke-width="1.2"/>
<line x1="156.80" y1="1135.95" x2="409.30" y2="1135.95" stroke="#000" stroke-width="1.2"/>
<line x1="156.80" y1="1129.66" x2="409.30" y2="1129.66" stroke="#000" stroke-width="1.2"/>
<line x1="156.80" y1="1124.77" x2="409.30" y2="1124.77" stroke="#000" stroke-width="1.2"/>
<line x1="156.80" y1="1120.78" x2="409.30" y2="1120.78" stroke="#000" stroke-width="1.2"/>
<line x1="156.80" y1="1117.41" x2="409.30" y2="1117.41" stroke="#000" stroke-width="1.2"/>
<line x1="156.80" y1="1114.48" x2="409.30" y2="1114.48" stroke="#000" stroke-width="1.2"/>
<line x1="156.80" y1="1111.91" x2="409.30" y2="1111.91" stroke="#000" stroke-width="1.2"/>
<line x1="156.80" y1="1109.60" x2="409.30" y2="1109.60" stroke="#000" stroke-width="1.2"/>
<line x1="156.80" y1="1094.43" x2="409.30" y2="1094.43" stroke="#000" stroke-width="1.2"/>
<line x1="156.80" y1="1085.55" x2="409.30" y2="1085.55" stroke="#000" stroke-width="1.2"/>
<line x1="156.80" y1="1079.26" x2="409.30" y2="1079.26" stroke="#000" stroke-width="1.2"/>
<line x1="156.80" y1="1074.37" x2="409.30" y2="1074.37" stroke="#000" stroke-width="1.2"/>
<line x1="156.80" y1="1070.38" x2="409.30" y2="1070.38" stroke="#000" stroke-width="1.2"/>
<line x1="156.80" y1="1067.01" x2="409.30" y2="1067.01" stroke="#000" stroke-width="1.2"/>
<line x1="156.80" y1="1064.08" x2="409.30" y2="1064.08" stroke="#000" stroke-width="1.2"/>
<line x1="156.80" y1="1061.51" x2="409.30" y2="1061.51" stroke="#000" stroke-width="1.2"/>
<line x1="156.80" y1="1059.20" x2="409.30" y2="1059.20" stroke="#000" stroke-width="1.2"/>
<line x1="156.80" y1="1044.03" x2="409.30" y2="1044.03" stroke="#000" stroke-width="1.2"/>
<line x1="156.80" y1="1035.15" x2="409.30" y2="1035.15" stroke="#000" stroke-width="1.2"/>
<line x1="156.80" y1="1028.86" x2="409.30" y2="1028.86" stroke="#000" stroke-width="1.2"/>
<line x1="156.80" y1="1023.97" x2="409.30" y2="1023.97" stroke="#000" stroke-width="1.2"/>
<line x1="156.80" y1="1019.98" x2="409.30" y2="1019.98" stroke="#000" stroke-width="1.2"/>
<line x1="156.80" y1="1016.61" x2="409.30" y2="1016.61" stroke="#000" stroke-width="1.2"/>
<line x1="156.80" y1="1013.68" x2="409.30" y2="1013.68" stroke="#000" stroke-width="1.2"/>
<line x1="156.80" y1="1011.11" x2="409.30" y2="1011.11" stroke="#000" stroke-width="1.2"/>
<line x1="156.80" y1="1008.80" x2="409.30" y2="1008.80" stroke="#000" stroke-width="1.2"/>
<line x1="156.80" y1="993.63" x2="409.30" y2="993.63" stroke="#000" stroke-width="1.2"/>
<line x1="156.80" y1="984.75" x2="409.30" y2="984.75" stroke="#000" stroke-width="1.2"/>
<line x1="156.80" y1="978.46" x2="409.30" y2="978.46" stroke="#000" stroke-width="1.2"/>
<line x1="156.80" y1="973.57" x2="409.30" y2="973.57" stroke="#000" stroke-width="1.2"/>
<line x1="156.80" y1="969.58" x2="409.30" y2="969.58" stroke="#000" stroke-width="1.2"/>
<line x1="156.80" y1="966.21" x2="409.30" y2="966.21" stroke="#000" stroke-width="1.2"/>
<line x1="156.80" y1="963.28" x2="409.30" y2="963.28" stroke="#000" stroke-width="1.2"/>
<line x1="156.80" y1="960.71" x2="409.30" y2="960.71" stroke="#000" stroke-width="1.2"/>
<line x1="156.80" y1="958.40" x2="409.30" y2="958.40" stroke="#000" stroke-width="1.2"/>
<text transform="translate(113.85,1215.40) scale(1.0000,1)" font-family="Liberation Sans" font-size="14" fill="#222">0.001</text>
<text transform="translate(121.64,1165.00) scale(1.0000,1)" font-family="Liberation Sans" font-size="14" fill="#222">0.01</text>
<text transform="translate(129.42,1114.60) scale(1.0000,1)" font-family="Liberation Sans" font-size="14" fill="#222">0.1</text>
<text transform="translate(141.10,1064.20) scale(1.0000,1)" font-family="Liberation Sans" font-size="14" fill="#222">1</text>
<text transform="translate(133.17,1013.80) scale(1.0000,1)" font-family="Liberation Sans" font-size="14" fill="#222">10</text>
<text transform="translate(125.39,963.40) scale(1.0000,1)" font-family="Liberation Sans" font-size="14" fill="#222">100</text>
<text transform="translate(150.94,1232.80) scale(0.9854,1)" font-family="Liberation Sans" font-size="14.5" fill="#222">0.001</text>
<text transform="translate(207.06,1234.30) scale(0.9612,1)" font-family="Liberation Sans" font-size="14.5" fill="#222">0.01</text>
<text transform="translate(274.67,1234.30) scale(0.9427,1)" font-family="Liberation Sans" font-size="14.5" fill="#222">0.1</text>
<text transform="translate(344.13,1234.30) scale(0.6078,1)" font-family="Liberation Sans" font-size="14.5" fill="#222">1</text>
<text transform="translate(401.35,1234.30) scale(0.9545,1)" font-family="Liberation Sans" font-size="14.5" fill="#222">10</text>
<text transform="translate(98.60,1069.24) rotate(-90) scale(0.8200,1)" font-family="Liberation Sans" font-size="14.5" fill="#222" letter-spacing="2.041">(mA)</text>
<text transform="translate(98.60,1131.90) rotate(-90) scale(0.8200,1)" font-family="Liberation Sans" font-size="14.5" fill="#222" letter-spacing="1.768">I Source</text>
<text transform="translate(160.14,1265.50) scale(0.8200,1)" font-family="Liberation Sans" font-size="14.5" fill="#222" letter-spacing="1.819">Output Voltage Referenced to V</text>
<text transform="translate(370.78,1270.40) scale(0.9969,1)" font-family="Liberation Sans" font-size="11.5" fill="#222">S</text>
<text transform="translate(386.46,1265.50) scale(0.8200,1)" font-family="Liberation Sans" font-size="14.5" fill="#222" letter-spacing="2.759">(V)</text>
<rect x="337.00" y="1052.80" width="71.00" height="25.80" fill="#fff"/>
<text transform="translate(346.45,1067.00) scale(0.7858,1)" font-family="Liberation Sans" font-size="14.5" fill="#222">V</text>
<text transform="translate(353.93,1072.60) scale(0.9063,1)" font-family="Liberation Sans" font-size="11.5" fill="#222">S</text>
<text transform="translate(369.22,1067.00) scale(0.9653,1)" font-family="Liberation Sans" font-size="14.5" fill="#222">=</text>
<text transform="translate(386.09,1067.00) scale(0.9288,1)" font-family="Liberation Sans" font-size="14.5" fill="#222">3V</text>
<path d="M157.60,1172.20 L158.78,1170.94 L159.96,1169.69 L161.14,1168.44 L162.33,1167.19 L163.52,1165.95 L164.72,1164.71 L165.92,1163.48 L167.12,1162.25 L168.32,1161.02 L169.53,1159.80 L170.75,1158.58 L171.97,1157.36 L173.19,1156.15 L174.41,1154.94 L175.64,1153.73 L176.87,1152.53 L178.11,1151.33 L179.35,1150.14 L180.59,1148.94 L181.83,1147.75 L183.08,1146.57 L184.33,1145.39 L185.59,1144.21 L186.85,1143.04 L188.11,1141.87 L189.38,1140.70 L190.65,1139.54 L191.92,1138.38 L193.20,1137.23 L194.48,1136.08 L195.76,1134.93 L197.05,1133.79 L198.34,1132.65 L199.63,1131.51 L200.92,1130.37 L202.22,1129.24 L203.51,1128.11 L204.81,1126.98 L206.11,1125.85 L207.41,1124.72 L208.72,1123.60 L210.02,1122.48 L211.33,1121.36 L212.65,1120.25 L213.96,1119.14 L215.27,1118.03 L216.59,1116.92 L217.91,1115.81 L219.23,1114.70 L220.55,1113.60 L221.87,1112.50 L223.20,1111.40 L224.52,1110.30 L225.85,1109.21 L227.18,1108.12 L228.51,1107.03 L229.85,1105.94 L231.18,1104.85 L232.52,1103.77 L233.85,1102.68 L235.19,1101.60 L236.53,1100.51 L237.86,1099.43 L239.20,1098.35 L240.54,1097.26 L241.87,1096.18 L243.21,1095.09 L244.55,1094.01 L245.89,1092.93 L247.23,1091.85 L248.57,1090.77 L249.91,1089.69 L251.25,1088.61 L252.59,1087.53 L253.93,1086.45 L255.27,1085.37 L256.61,1084.29 L257.95,1083.21 L259.29,1082.12 L260.62,1081.04 L261.96,1079.95 L263.29,1078.87 L264.63,1077.78 L265.96,1076.69 L267.30,1075.60 L268.63,1074.52 L269.96,1073.43 L271.30,1072.34 L272.63,1071.25 L273.97,1070.17 L275.30,1069.08 L276.64,1068.00 L277.97,1066.91 L279.31,1065.82 L280.64,1064.73 L281.98,1063.65 L283.31,1062.56 L284.64,1061.47 L285.98,1060.39 L287.32,1059.31 L288.66,1058.23 L290.01,1057.16 L291.36,1056.09 L292.71,1055.02 L294.06,1053.96 L295.42,1052.90 L296.78,1051.84 L298.14,1050.79 L299.51,1049.74 L300.88,1048.70 L302.25,1047.67 L303.63,1046.64 L305.02,1045.62 L306.41,1044.61 L307.81,1043.60 L309.21,1042.60 L310.61,1041.60 L312.02,1040.62 L313.44,1039.64 L314.86,1038.66 L316.28,1037.70 L317.71,1036.74 L319.14,1035.78 L320.58,1034.83 L322.02,1033.89 L323.47,1032.96 L324.92,1032.04 L326.38,1031.12 L327.84,1030.22 L329.31,1029.32 L330.78,1028.42 L332.26,1027.54 L333.74,1026.66 L335.23,1025.79 L336.72,1024.94 L338.22,1024.09 L339.73,1023.26 L341.24,1022.44 L342.75,1021.61 L344.27,1020.80 L345.80,1019.99 L347.34,1019.21 L348.88,1018.46 L350.44,1017.74 L352.02,1017.06 L353.60,1016.39 L355.20,1015.72 L356.81,1015.08 L358.43,1014.47 L360.06,1013.90 L361.70,1013.39 L363.35,1012.95 L365.01,1012.56 L366.68,1012.18 L368.36,1011.83 L370.05,1011.52 L371.76,1011.23 L373.47,1010.99 L375.20,1010.80" fill="none" stroke="#000" stroke-width="3" stroke-linejoin="round" stroke-linecap="round"/>
<line x1="660.90" y1="958.40" x2="660.90" y2="1210.40" stroke="#000" stroke-width="1.2"/>
<line x1="679.92" y1="958.40" x2="679.92" y2="1210.40" stroke="#000" stroke-width="1.2"/>
<line x1="691.04" y1="958.40" x2="691.04" y2="1210.40" stroke="#000" stroke-width="1.2"/>
<line x1="698.94" y1="958.40" x2="698.94" y2="1210.40" stroke="#000" stroke-width="1.2"/>
<line x1="705.06" y1="958.40" x2="705.06" y2="1210.40" stroke="#000" stroke-width="1.2"/>
<line x1="710.06" y1="958.40" x2="710.06" y2="1210.40" stroke="#000" stroke-width="1.2"/>
<line x1="714.29" y1="958.40" x2="714.29" y2="1210.40" stroke="#000" stroke-width="1.2"/>
<line x1="717.95" y1="958.40" x2="717.95" y2="1210.40" stroke="#000" stroke-width="1.2"/>
<line x1="721.18" y1="958.40" x2="721.18" y2="1210.40" stroke="#000" stroke-width="1.2"/>
<line x1="724.08" y1="958.40" x2="724.08" y2="1210.40" stroke="#000" stroke-width="1.2"/>
<line x1="743.09" y1="958.40" x2="743.09" y2="1210.40" stroke="#000" stroke-width="1.2"/>
<line x1="754.22" y1="958.40" x2="754.22" y2="1210.40" stroke="#000" stroke-width="1.2"/>
<line x1="762.11" y1="958.40" x2="762.11" y2="1210.40" stroke="#000" stroke-width="1.2"/>
<line x1="768.23" y1="958.40" x2="768.23" y2="1210.40" stroke="#000" stroke-width="1.2"/>
<line x1="773.23" y1="958.40" x2="773.23" y2="1210.40" stroke="#000" stroke-width="1.2"/>
<line x1="777.46" y1="958.40" x2="777.46" y2="1210.40" stroke="#000" stroke-width="1.2"/>
<line x1="781.13" y1="958.40" x2="781.13" y2="1210.40" stroke="#000" stroke-width="1.2"/>
<line x1="784.36" y1="958.40" x2="784.36" y2="1210.40" stroke="#000" stroke-width="1.2"/>
<line x1="787.25" y1="958.40" x2="787.25" y2="1210.40" stroke="#000" stroke-width="1.2"/>
<line x1="806.27" y1="958.40" x2="806.27" y2="1210.40" stroke="#000" stroke-width="1.2"/>
<line x1="817.39" y1="958.40" x2="817.39" y2="1210.40" stroke="#000" stroke-width="1.2"/>
<line x1="825.29" y1="958.40" x2="825.29" y2="1210.40" stroke="#000" stroke-width="1.2"/>
<line x1="831.41" y1="958.40" x2="831.41" y2="1210.40" stroke="#000" stroke-width="1.2"/>
<line x1="836.41" y1="958.40" x2="836.41" y2="1210.40" stroke="#000" stroke-width="1.2"/>
<line x1="840.64" y1="958.40" x2="840.64" y2="1210.40" stroke="#000" stroke-width="1.2"/>
<line x1="844.30" y1="958.40" x2="844.30" y2="1210.40" stroke="#000" stroke-width="1.2"/>
<line x1="847.53" y1="958.40" x2="847.53" y2="1210.40" stroke="#000" stroke-width="1.2"/>
<line x1="850.42" y1="958.40" x2="850.42" y2="1210.40" stroke="#000" stroke-width="1.2"/>
<line x1="869.44" y1="958.40" x2="869.44" y2="1210.40" stroke="#000" stroke-width="1.2"/>
<line x1="880.57" y1="958.40" x2="880.57" y2="1210.40" stroke="#000" stroke-width="1.2"/>
<line x1="888.46" y1="958.40" x2="888.46" y2="1210.40" stroke="#000" stroke-width="1.2"/>
<line x1="894.58" y1="958.40" x2="894.58" y2="1210.40" stroke="#000" stroke-width="1.2"/>
<line x1="899.58" y1="958.40" x2="899.58" y2="1210.40" stroke="#000" stroke-width="1.2"/>
<line x1="903.81" y1="958.40" x2="903.81" y2="1210.40" stroke="#000" stroke-width="1.2"/>
<line x1="907.48" y1="958.40" x2="907.48" y2="1210.40" stroke="#000" stroke-width="1.2"/>
<line x1="910.71" y1="958.40" x2="910.71" y2="1210.40" stroke="#000" stroke-width="1.2"/>
<line x1="913.60" y1="958.40" x2="913.60" y2="1210.40" stroke="#000" stroke-width="1.2"/>
<line x1="660.90" y1="1210.40" x2="913.60" y2="1210.40" stroke="#000" stroke-width="1.2"/>
<line x1="660.90" y1="1195.23" x2="913.60" y2="1195.23" stroke="#000" stroke-width="1.2"/>
<line x1="660.90" y1="1186.35" x2="913.60" y2="1186.35" stroke="#000" stroke-width="1.2"/>
<line x1="660.90" y1="1180.06" x2="913.60" y2="1180.06" stroke="#000" stroke-width="1.2"/>
<line x1="660.90" y1="1175.17" x2="913.60" y2="1175.17" stroke="#000" stroke-width="1.2"/>
<line x1="660.90" y1="1171.18" x2="913.60" y2="1171.18" stroke="#000" stroke-width="1.2"/>
<line x1="660.90" y1="1167.81" x2="913.60" y2="1167.81" stroke="#000" stroke-width="1.2"/>
<line x1="660.90" y1="1164.88" x2="913.60" y2="1164.88" stroke="#000" stroke-width="1.2"/>
<line x1="660.90" y1="1162.31" x2="913.60" y2="1162.31" stroke="#000" stroke-width="1.2"/>
<line x1="660.90" y1="1160.00" x2="913.60" y2="1160.00" stroke="#000" stroke-width="1.2"/>
<line x1="660.90" y1="1144.83" x2="913.60" y2="1144.83" stroke="#000" stroke-width="1.2"/>
<line x1="660.90" y1="1135.95" x2="913.60" y2="1135.95" stroke="#000" stroke-width="1.2"/>
<line x1="660.90" y1="1129.66" x2="913.60" y2="1129.66" stroke="#000" stroke-width="1.2"/>
<line x1="660.90" y1="1124.77" x2="913.60" y2="1124.77" stroke="#000" stroke-width="1.2"/>
<line x1="660.90" y1="1120.78" x2="913.60" y2="1120.78" stroke="#000" stroke-width="1.2"/>
<line x1="660.90" y1="1117.41" x2="913.60" y2="1117.41" stroke="#000" stroke-width="1.2"/>
<line x1="660.90" y1="1114.48" x2="913.60" y2="1114.48" stroke="#000" stroke-width="1.2"/>
<line x1="660.90" y1="1111.91" x2="913.60" y2="1111.91" stroke="#000" stroke-width="1.2"/>
<line x1="660.90" y1="1109.60" x2="913.60" y2="1109.60" stroke="#000" stroke-width="1.2"/>
<line x1="660.90" y1="1094.43" x2="913.60" y2="1094.43" stroke="#000" stroke-width="1.2"/>
<line x1="660.90" y1="1085.55" x2="913.60" y2="1085.55" stroke="#000" stroke-width="1.2"/>
<line x1="660.90" y1="1079.26" x2="913.60" y2="1079.26" stroke="#000" stroke-width="1.2"/>
<line x1="660.90" y1="1074.37" x2="913.60" y2="1074.37" stroke="#000" stroke-width="1.2"/>
<line x1="660.90" y1="1070.38" x2="913.60" y2="1070.38" stroke="#000" stroke-width="1.2"/>
<line x1="660.90" y1="1067.01" x2="913.60" y2="1067.01" stroke="#000" stroke-width="1.2"/>
<line x1="660.90" y1="1064.08" x2="913.60" y2="1064.08" stroke="#000" stroke-width="1.2"/>
<line x1="660.90" y1="1061.51" x2="913.60" y2="1061.51" stroke="#000" stroke-width="1.2"/>
<line x1="660.90" y1="1059.20" x2="913.60" y2="1059.20" stroke="#000" stroke-width="1.2"/>
<line x1="660.90" y1="1044.03" x2="913.60" y2="1044.03" stroke="#000" stroke-width="1.2"/>
<line x1="660.90" y1="1035.15" x2="913.60" y2="1035.15" stroke="#000" stroke-width="1.2"/>
<line x1="660.90" y1="1028.86" x2="913.60" y2="1028.86" stroke="#000" stroke-width="1.2"/>
<line x1="660.90" y1="1023.97" x2="913.60" y2="1023.97" stroke="#000" stroke-width="1.2"/>
<line x1="660.90" y1="1019.98" x2="913.60" y2="1019.98" stroke="#000" stroke-width="1.2"/>
<line x1="660.90" y1="1016.61" x2="913.60" y2="1016.61" stroke="#000" stroke-width="1.2"/>
<line x1="660.90" y1="1013.68" x2="913.60" y2="1013.68" stroke="#000" stroke-width="1.2"/>
<line x1="660.90" y1="1011.11" x2="913.60" y2="1011.11" stroke="#000" stroke-width="1.2"/>
<line x1="660.90" y1="1008.80" x2="913.60" y2="1008.80" stroke="#000" stroke-width="1.2"/>
<line x1="660.90" y1="993.63" x2="913.60" y2="993.63" stroke="#000" stroke-width="1.2"/>
<line x1="660.90" y1="984.75" x2="913.60" y2="984.75" stroke="#000" stroke-width="1.2"/>
<line x1="660.90" y1="978.46" x2="913.60" y2="978.46" stroke="#000" stroke-width="1.2"/>
<line x1="660.90" y1="973.57" x2="913.60" y2="973.57" stroke="#000" stroke-width="1.2"/>
<line x1="660.90" y1="969.58" x2="913.60" y2="969.58" stroke="#000" stroke-width="1.2"/>
<line x1="660.90" y1="966.21" x2="913.60" y2="966.21" stroke="#000" stroke-width="1.2"/>
<line x1="660.90" y1="963.28" x2="913.60" y2="963.28" stroke="#000" stroke-width="1.2"/>
<line x1="660.90" y1="960.71" x2="913.60" y2="960.71" stroke="#000" stroke-width="1.2"/>
<line x1="660.90" y1="958.40" x2="913.60" y2="958.40" stroke="#000" stroke-width="1.2"/>
<text transform="translate(618.75,1215.40) scale(1.0000,1)" font-family="Liberation Sans" font-size="14" fill="#222">0.001</text>
<text transform="translate(626.54,1165.00) scale(1.0000,1)" font-family="Liberation Sans" font-size="14" fill="#222">0.01</text>
<text transform="translate(634.32,1114.60) scale(1.0000,1)" font-family="Liberation Sans" font-size="14" fill="#222">0.1</text>
<text transform="translate(646.00,1064.20) scale(1.0000,1)" font-family="Liberation Sans" font-size="14" fill="#222">1</text>
<text transform="translate(638.07,1013.80) scale(1.0000,1)" font-family="Liberation Sans" font-size="14" fill="#222">10</text>
<text transform="translate(630.29,963.40) scale(1.0000,1)" font-family="Liberation Sans" font-size="14" fill="#222">100</text>
<text transform="translate(647.44,1234.30) scale(0.9834,1)" font-family="Liberation Sans" font-size="14.5" fill="#222">0.01</text>
<text transform="translate(717.72,1232.80) scale(1.0327,1)" font-family="Liberation Sans" font-size="14.5" fill="#222">0.1</text>
<text transform="translate(784.54,1234.30) scale(0.6878,1)" font-family="Liberation Sans" font-size="14.5" fill="#222">1</text>
<text transform="translate(841.70,1234.30) scale(0.9960,1)" font-family="Liberation Sans" font-size="14.5" fill="#222">10</text>
<text transform="translate(900.67,1234.30) scale(1.0212,1)" font-family="Liberation Sans" font-size="14.5" fill="#222">100</text>
<text transform="translate(603.50,1078.04) rotate(-90) scale(0.8200,1)" font-family="Liberation Sans" font-size="14.5" fill="#222" letter-spacing="2.773">(mA)</text>
<text transform="translate(603.50,1125.10) rotate(-90) scale(0.8200,1)" font-family="Liberation Sans" font-size="14.5" fill="#222" letter-spacing="2.523">I Sink</text>
<text transform="translate(659.04,1265.50) scale(0.8200,1)" font-family="Liberation Sans" font-size="14.5" fill="#222" letter-spacing="1.749">Output Voltage Referenced to GND (V)</text>
<rect x="825.80" y="1036.30" width="84.30" height="27.10" fill="#fff"/>
<text transform="translate(837.16,1050.10) scale(0.7020,1)" font-family="Liberation Sans" font-size="14.5" fill="#222">V</text>
<text transform="translate(844.42,1056.30) scale(0.9214,1)" font-family="Liberation Sans" font-size="11.5" fill="#222">S</text>
<text transform="translate(860.28,1050.10) scale(1.0220,1)" font-family="Liberation Sans" font-size="14.5" fill="#222">=</text>
<text transform="translate(878.05,1050.10) scale(0.9500,1)" font-family="Liberation Sans" font-size="14.5" fill="#222">15V</text>
<path d="M661.50,1156.90 L661.86,1155.11 L662.23,1153.32 L662.60,1151.53 L662.97,1149.74 L663.35,1147.96 L663.73,1146.17 L664.12,1144.39 L664.51,1142.60 L664.91,1140.82 L665.30,1139.04 L665.70,1137.25 L666.10,1135.47 L666.51,1133.69 L666.92,1131.91 L667.34,1130.13 L667.78,1128.36 L668.23,1126.59 L668.69,1124.82 L669.17,1123.06 L669.66,1121.30 L670.16,1119.54 L670.68,1117.79 L671.21,1116.04 L671.76,1114.30 L672.32,1112.56 L672.89,1110.82 L673.47,1109.09 L674.07,1107.37 L674.67,1105.65 L675.30,1103.93 L675.94,1102.21 L676.60,1100.50 L677.28,1098.80 L677.98,1097.11 L678.70,1095.44 L679.44,1093.78 L680.22,1092.13 L681.03,1090.50 L681.86,1088.87 L682.73,1087.25 L683.62,1085.64 L684.54,1084.06 L685.48,1082.49 L686.45,1080.94 L687.43,1079.42 L688.46,1077.92 L689.52,1076.44 L690.62,1074.98 L691.74,1073.53 L692.89,1072.10 L694.06,1070.68 L695.24,1069.28 L696.43,1067.90 L697.63,1066.52 L698.85,1065.17 L700.09,1063.84 L701.35,1062.52 L702.63,1061.21 L703.92,1059.91 L705.22,1058.62 L706.53,1057.34 L707.84,1056.07 L709.15,1054.79 L710.46,1053.52 L711.77,1052.25 L713.10,1051.00 L714.43,1049.75 L715.76,1048.50 L717.11,1047.26 L718.45,1046.03 L719.80,1044.79 L721.15,1043.56 L722.50,1042.33 L723.85,1041.10 L725.20,1039.87 L726.55,1038.64 L727.90,1037.41 L729.25,1036.18 L730.61,1034.96 L731.96,1033.73 L733.32,1032.51 L734.69,1031.30 L736.05,1030.09 L737.42,1028.88 L738.79,1027.67 L740.17,1026.47 L741.55,1025.27 L742.93,1024.07 L744.31,1022.88 L745.69,1021.69 L747.08,1020.50 L748.48,1019.32 L749.89,1018.16 L751.30,1017.00 L752.72,1015.85 L754.14,1014.71 L755.58,1013.58 L757.02,1012.46 L758.47,1011.35 L759.93,1010.24 L761.39,1009.15 L762.86,1008.06 L764.33,1006.99 L765.82,1005.92 L767.31,1004.87 L768.81,1003.83 L770.32,1002.80 L771.83,1001.78 L773.36,1000.77 L774.88,999.77 L776.41,998.77 L777.95,997.78 L779.49,996.79 L781.03,995.81 L782.57,994.84 L784.13,993.88 L785.68,992.92 L787.24,991.97 L788.81,991.03 L790.37,990.09 L791.95,989.16 L793.52,988.23 L795.10,987.31 L796.68,986.39 L798.26,985.48 L799.85,984.58 L801.45,983.70 L803.05,982.83 L804.67,981.98 L806.29,981.13 L807.91,980.29 L809.55,979.46 L811.19,978.65 L812.84,977.87 L814.50,977.12 L816.17,976.40 L817.86,975.69 L819.56,974.98 L821.27,974.28 L822.99,973.63 L824.72,973.05 L826.47,972.59 L828.24,972.24 L830.03,971.92 L831.84,971.61 L833.66,971.35 L835.48,971.14 L837.31,971.01 L839.14,970.96 L840.96,970.96 L842.78,970.96 L844.60,970.96 L846.42,970.97 L848.25,970.98 L850.08,970.99 L851.90,971.01 L853.73,971.03 L855.57,971.06 L857.40,971.10" fill="none" stroke="#000" stroke-width="3" stroke-linejoin="round" stroke-linecap="round"/>
</svg></body></html>
